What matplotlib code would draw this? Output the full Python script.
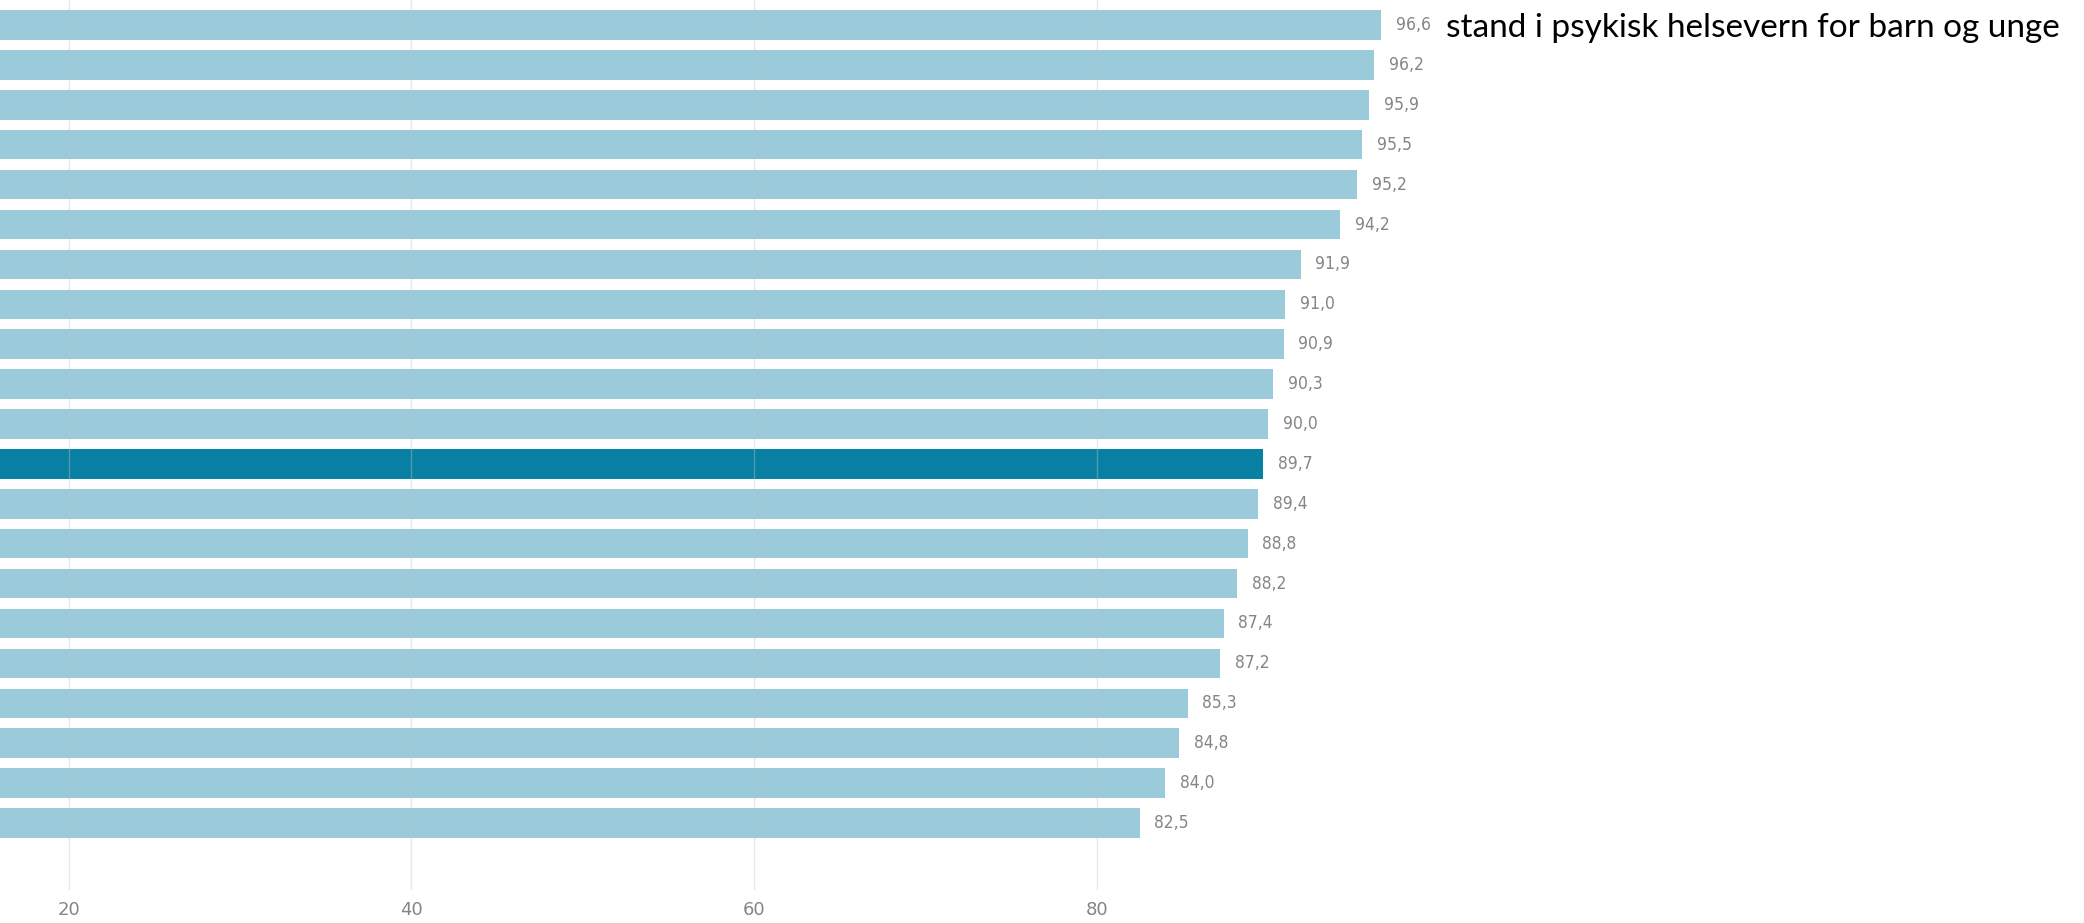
import numpy as np
import matplotlib
matplotlib.use("Agg")
import matplotlib.pyplot as plt

# values, top to bottom
values = [96.6, 96.2, 95.9, 95.5, 95.2, 94.2, 91.9, 91.0, 90.9, 90.3, 90.0,
          89.7, 89.4, 88.8, 88.2, 87.4, 87.2, 85.3, 84.8, 84.0, 82.5]
highlight = 11
xticks = [20, 40, 60, 80]
title = "stand i psykisk helsevern for barn og unge"

light = "#9bcbda"
dark = "#0880a3"
grey = "#858585"

fig = plt.figure(figsize=(20.84, 9.23), dpi=100)
ax = fig.add_axes([0, 1 - 890 / 923, 1, 890 / 923])

y = np.arange(len(values))
colors = [dark if i == highlight else light for i in range(len(values))]
ax.barh(y, values, height=0.74, color=colors, zorder=2)

for yi, v in zip(y, values):
    ax.text(v + 0.85, yi, f"{v:.1f}".replace(".", ","), va="center", ha="left",
            fontsize=12.5, color=grey, fontstretch="condensed",
            family=["Liberation Sans Narrow", "DejaVu Sans"],
            bbox=dict(facecolor="white", edgecolor="none", pad=1.5), zorder=3)

ax.set_xlim(16.0, 137.6)
ax.set_ylim(21.68, -0.627)
ax.set_xticks(xticks)
ax.set_xticklabels([str(t) for t in xticks], fontsize=13, color=grey,
                   family=["Liberation Sans Narrow", "DejaVu Sans"])
ax.set_yticks([])
ax.tick_params(axis="x", length=0, pad=8)
ax.grid(axis="x", color="#b8c4c8", linewidth=1, alpha=0.4)
ax.set_axisbelow(False)
for s in ax.spines.values():
    s.set_visible(False)

fig.text(2060 / 2084, 1 - 37 / 923, title, ha="right", va="baseline",
         fontsize=24, color="black", family=["Lato", "DejaVu Sans"], zorder=5)

fig.savefig("out.png", dpi=100)
